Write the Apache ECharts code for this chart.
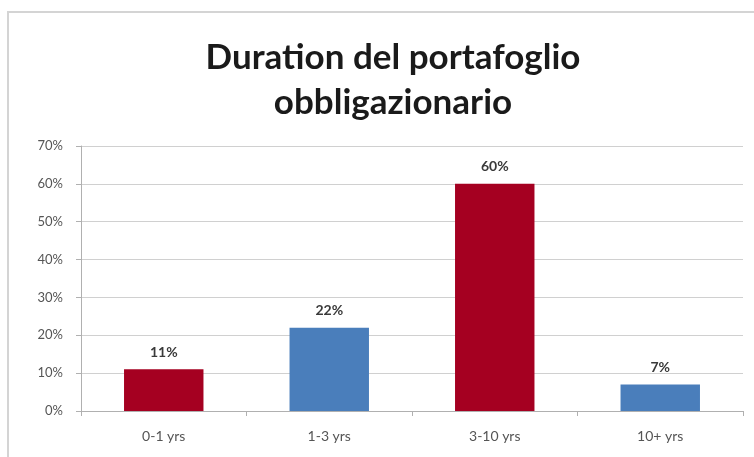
<!DOCTYPE html>
<html>
<head>
<meta charset="utf-8">
<script src="https://cdn.jsdelivr.net/npm/echarts@6/dist/echarts.min.js"></script>
<style>
  html, body { margin: 0; padding: 0; background: #fff; overflow: hidden; }
  #main { width: 754px; height: 457px; }
</style>
</head>
<body>
<div id="main"></div>
<script>
// categorie e valori (in %)
var categories = ['0-1 yrs', '1-3 yrs', '3-10 yrs', '10+ yrs']
var values = [11, 22, 60, 7]
var barColors = ['#a50021', '#4a7ebb', '#a50021', '#4a7ebb']
var yTicks = [0, 10, 20, 30, 40, 50, 60, 70]

var myChart = echarts.init(document.getElementById('main'))

myChart.setOption({
  animation: false,
  textStyle: { fontFamily: 'Lato' },
  title: {
    text: 'Duration del portafoglio\nobbligazionario',
    left: 388,
    top: 30,
    textAlign: 'center',
    textStyle: {
      fontFamily: 'Lato',
      fontSize: 35,
      fontWeight: 'bold',
      color: '#1a1a1a',
      lineHeight: 45
    }
  },
  graphic: [{
    type: 'polyline',
    shape: { points: [[8, 457], [8, 12], [754, 12]] },
    style: { stroke: '#d4d4d4', lineWidth: 2, fill: null }
  }],
  grid: { left: 81, right: 11, top: 146, bottom: 46 },
  xAxis: {
    type: 'category',
    data: categories,
    axisLine: { lineStyle: { color: '#b0b0b0' } },
    axisTick: { show: true, length: 5, lineStyle: { color: '#b0b0b0' } },
    axisLabel: { color: '#555', fontSize: 14, margin: 18 },
    splitLine: { show: false }
  },
  yAxis: {
    type: 'value',
    min: yTicks[0],
    max: yTicks[yTicks.length - 1],
    interval: 10,
    axisLine: { show: true, lineStyle: { color: '#b0b0b0' } },
    axisTick: { show: true, length: 5, lineStyle: { color: '#b0b0b0' } },
    axisLabel: { color: '#555', fontSize: 13, margin: 18, formatter: '{value}%' },
    splitLine: { lineStyle: { color: '#d0d0d0' } }
  },
  series: [{
    type: 'bar',
    barWidth: '48%',
    data: values.map(function (v, i) {
      return { value: v, itemStyle: { color: barColors[i] } }
    }),
    label: {
      show: true,
      position: 'top',
      distance: 10,
      formatter: '{c}%',
      color: '#3a3a3a',
      fontSize: 14,
      fontWeight: 'bold'
    }
  }]
})
</script>
</body>
</html>
